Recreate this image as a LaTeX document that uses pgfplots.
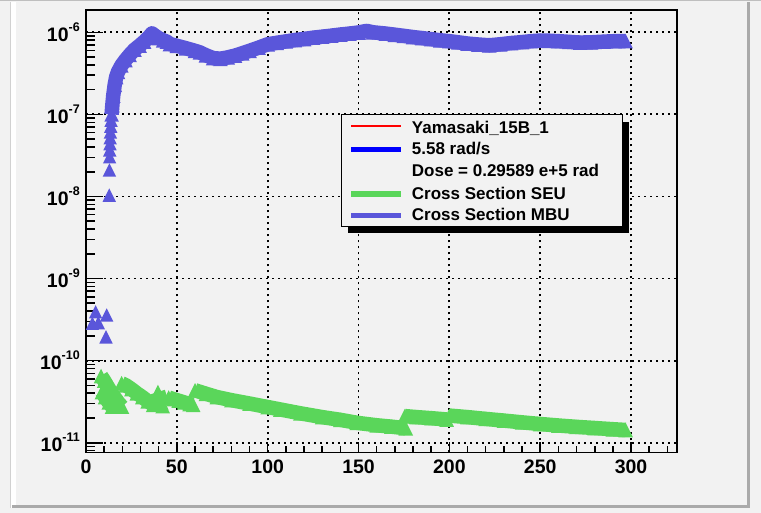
\documentclass[border=0pt]{standalone}
\usepackage{pgfplots}
\pgfplotsset{compat=1.18}
\usepackage{fontspec}
\setmainfont{Liberation Sans}
\definecolor{bg}{RGB}{242,242,242}
\definecolor{mbu}{RGB}{90,86,218}
\definecolor{seu}{RGB}{90,214,90}
\definecolor{shadowgrey}{RGB}{170,170,170}

\pgfdeclareplotmark{rtri}{%
  \pgfpathmoveto{\pgfqpoint{0pt}{\pgfplotmarksize}}%
  \pgfpathlineto{\pgfqpoint{-\pgfplotmarksize}{-\pgfplotmarksize}}%
  \pgfpathlineto{\pgfqpoint{\pgfplotmarksize}{-\pgfplotmarksize}}%
  \pgfpathclose
  \pgfusepathqfill}

\pgfplotsset{
  band/.style={line width=14.5pt, line join=round, mark=rtri, mark size=7.3pt,
    mark options={solid, draw=none, fill=#1}, draw=#1, forget plot},
  pts/.style={only marks, mark=rtri, mark size=6.7pt,
    mark options={draw=none, fill=#1}, forget plot},
}
\newcommand{\tl}[1]{10\raisebox{10pt}{\fontsize{12.5}{13}\selectfont -#1}}

\begin{document}
\begin{tikzpicture}[x=1pt,y=1pt]
\path[use as bounding box] (0,0) rectangle (761,513);
% background pad
\fill[bg] (0,0) rectangle (761,513);
\fill[white] (10.5,5) rectangle (15.5,511);
\draw[black!18, line width=0.8pt] (10.2,5) -- (10.2,511);
\fill[black!25] (0,512) rectangle (761,513);
\fill[shadowgrey] (746.7,5) rectangle (750.3,511);
\fill[shadowgrey] (12,5) rectangle (750.3,8.3);

% axis 1: grid, y ticks, y labels
\begin{axis}[
  at={(86pt,60.7pt)}, anchor=south west, scale only axis,
  width=591pt, height=442.3pt,
  xmin=0, xmax=325.3, ymode=log, ymin=7.64e-12, ymax=1.87e-6,
  axis line style={draw=none},
  xtick={0,50,100,150,200,250,300}, xticklabels={},
  ytick={1e-11,1e-10,1e-9,1e-8,1e-7,1e-6},
  yticklabels={\tl{11},\tl{10},\tl{9},\tl{8},\tl{7},\tl{6}},
  minor ytick={8e-12,9e-12,
    2e-11,3e-11,4e-11,5e-11,6e-11,7e-11,8e-11,9e-11,
    2e-10,3e-10,4e-10,5e-10,6e-10,7e-10,8e-10,9e-10,
    2e-9,3e-9,4e-9,5e-9,6e-9,7e-9,8e-9,9e-9,
    2e-8,3e-8,4e-8,5e-8,6e-8,7e-8,8e-8,9e-8,
    2e-7,3e-7,4e-7,5e-7,6e-7,7e-7,8e-7,9e-7},
  xmajorgrids, ymajorgrids,
  major grid style={black, line width=1.9pt, dash pattern=on 1.9pt off 4.1pt},
  tick align=inside, ytick pos=left,
  major tick length=17pt, minor tick length=9pt,
  tick style={black, line width=1.6pt},
  xtick style={draw=none},
  yticklabel style={anchor=east, inner sep=0pt, xshift=-6pt,
    font=\bfseries\fontsize{19.5}{20}\selectfont},
]
\end{axis}

% axis 2: data, x ticks, frame
\begin{axis}[
  at={(86pt,60.7pt)}, anchor=south west, scale only axis,
  width=591pt, height=442.3pt,
  xmin=0, xmax=325.3, ymode=log, ymin=7.64e-12, ymax=1.87e-6,
  axis line style={black, line width=1.6pt},
  ytick=\empty,
  xtick={0,50,100,150,200,250,300},
  xticklabels={0,50,100,150,200,250,300},
  minor xtick={0,10,...,320},
  tick align=inside, xtick pos=bottom,
  major tick length=10pt, minor tick length=6pt,
  tick style={black, line width=1.6pt},
  xticklabel style={anchor=north, inner sep=0pt, yshift=-7.7pt,
    font=\bfseries\fontsize{19.5}{20}\selectfont},
]
% SEU segments
\addplot[band=seu] coordinates {(8.3,6.5e-11) (10,5.7e-11) (12,4.8e-11) (14,4.05e-11) (16,3.5e-11) (18,3.05e-11) (19.8,2.75e-11)};
\addplot[band=seu] coordinates {(8.8,4.15e-11) (10.5,3.6e-11) (12.5,3.1e-11) (14.3,2.75e-11)};
\addplot[band=seu] coordinates {(19.6,5.3e-11) (22,5.0e-11) (25,4.5e-11) (28,4.0e-11) (31,3.6e-11) (34,3.2e-11) (37,2.9e-11)};
\addplot[band=seu] coordinates {(39.6,4.15e-11) (40.5,3.6e-11) (41.4,3.1e-11) (42.2,2.8e-11)};
\addplot[band=seu] coordinates {(45.5,3.55e-11) (48,3.4e-11) (51,3.25e-11) (54,3.1e-11) (57,2.95e-11) (59,2.9e-11)};
\addplot[band=seu] coordinates {(60,4.35e-11) (66,3.95e-11) (72,3.6e-11) (80,3.3e-11) (90,3.0e-11) (100,2.72e-11) (107,2.54e-11) (118,2.28e-11) (130,2.05e-11) (140,1.9e-11) (149,1.75e-11) (160,1.63e-11) (168,1.57e-11) (176,1.5e-11)};
\addplot[band=seu] coordinates {(175.5,2.11e-11) (182,2.05e-11) (190,1.99e-11) (198.5,1.92e-11)};
\addplot[band=seu] coordinates {(200,2.14e-11) (210,2.05e-11) (220,1.95e-11) (230,1.86e-11) (240,1.77e-11) (250,1.69e-11) (260,1.62e-11) (270,1.56e-11) (280,1.51e-11) (290,1.46e-11) (297,1.43e-11)};
% MBU
\addplot[pts=mbu] coordinates {(3.5,2.85e-10) (5.3,3.94e-10) (6.8,2.9e-10) (11.4,3.6e-10) (11,1.95e-10)};
\addplot[pts=mbu] coordinates {(12.8,1.04e-8) (12.9,2.1e-8) (13.0,3.05e-8) (13.1,3.7e-8) (13.2,4.4e-8) (13.3,5.2e-8) (13.45,6.1e-8) (13.6,7.2e-8) (13.8,8.5e-8)};
\addplot[band=mbu] coordinates {(14.1,1.0e-7) (14.5,1.3e-7) (15,1.7e-7) (15.8,2.3e-7) (16.6,2.85e-7) (17.6,3.3e-7) (19.5,3.95e-7) (21.7,4.6e-7) (24,5.3e-7) (26.7,6.15e-7) (29.5,6.9e-7) (32,7.7e-7) (34.3,8.6e-7) (36.3,9.7e-7) (38,9.1e-7) (40,8.5e-7) (42.5,8.0e-7) (44.5,7.7e-7) (46.2,7.2e-7) (50,6.85e-7) (55,6.4e-7) (60,5.95e-7) (62.7,5.7e-7) (66,5.25e-7) (70,4.85e-7) (74,4.77e-7) (78,4.95e-7) (82,5.2e-7) (86,5.55e-7) (90,5.95e-7) (95,6.5e-7) (100,7.15e-7) (105,7.45e-7) (110,7.75e-7) (115,8.05e-7) (120,8.3e-7) (125,8.6e-7) (130,8.85e-7) (135,9.1e-7) (140,9.4e-7) (145,9.65e-7) (150,9.95e-7) (154.5,1.04e-6) (158,1.0e-6) (165,9.65e-7) (170,9.35e-7) (175,9.05e-7) (180,8.75e-7) (185,8.5e-7) (190,8.25e-7) (195,8.0e-7) (200,7.8e-7) (205,7.55e-7) (210,7.3e-7) (216,7.1e-7) (222,6.95e-7) (228,7.15e-7) (234,7.4e-7) (240,7.6e-7) (245,7.8e-7) (250,7.95e-7) (255,7.9e-7) (260,7.8e-7) (266,7.65e-7) (272,7.5e-7) (278,7.55e-7) (285,7.7e-7) (291,7.8e-7) (297,7.8e-7)};
\end{axis}

% legend
\fill[black] (348.3,279.7) rectangle (629.3,391.4);
\filldraw[fill=bg, draw=black, line width=1pt] (341,286.3) rectangle (622,398);
\draw[red, line width=1.3pt] (351,387) -- (401,387);
\draw[blue, line width=5pt] (351,363.7) -- (401,363.7);
\draw[seu, line width=5.5pt] (351,319) -- (401,319);
\draw[mbu, line width=5.5pt] (351,297.3) -- (401,297.3);
\begin{scope}[every node/.style={anchor=base west, inner sep=0pt, font=\bfseries\fontsize{17}{20}\selectfont}]
\node at (411.7,379.7) {Yamasaki\_15B\_1};
\node at (411.7,358) {5.58 rad/s};
\node at (411.7,336.3) {Dose = 0.29589 e+5 rad};
\node at (411.7,313.7) {Cross Section SEU};
\node at (411.7,292.3) {Cross Section MBU};
\end{scope}
\end{tikzpicture}
\end{document}
